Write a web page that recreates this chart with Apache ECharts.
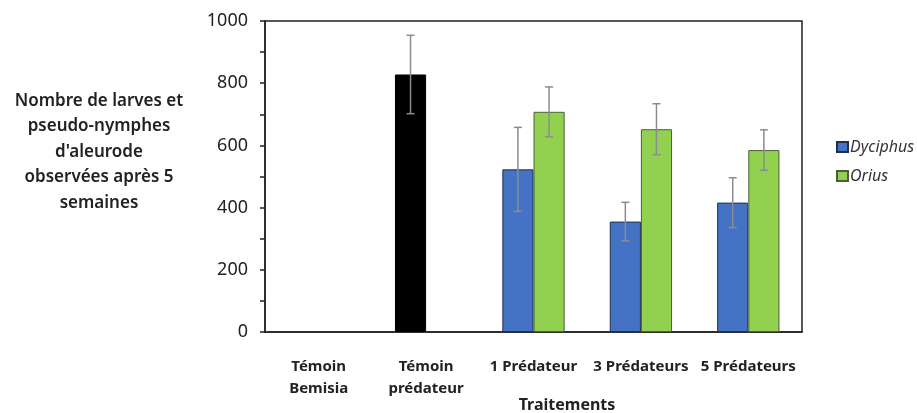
<!DOCTYPE html>
<html>
<head>
<meta charset="utf-8">
<script src="https://cdn.jsdelivr.net/npm/echarts@6/dist/echarts.min.js"></script>
<style>html,body{margin:0;padding:0;background:#fff;}#c{width:917px;height:413px;}</style>
</head>
<body>
<div id="c"></div>
<script>
var categories = ['Témoin\nBemisia', 'Témoin\nprédateur', '1 Prédateur', '3 Prédateurs', '5 Prédateurs'];
var dyciphus = [null, 828, 523, 355, 416];
var dyciphusErr = [null, 126, 135, 62, 80];
var orius = [null, null, 708, 652, 585];
var oriusErr = [null, null, 80, 82, 65];
var yTicks = [0, 200, 400, 600, 800, 1000];

var FONT = 'Noto Sans';
var chart = echarts.init(document.getElementById('c'));

function errSeries(vals, errs, side) {
  var data = vals.map(function (v, i) { return v == null ? [i, null, null] : [i, v, errs[i]]; });
  return {
    type: 'custom',
    silent: true,
    z: 10,
    data: data,
    renderItem: function (params, api) {
      var v = api.value(1), e = api.value(2);
      if (v == null || isNaN(v)) return null;
      var band = api.size([1, 0])[0];
      var c = api.coord([api.value(0), v]);
      var x = c[0] + side * band * 0.145;
      var top = api.coord([api.value(0), v + e])[1];
      var bot = api.coord([api.value(0), v - e])[1];
      var st = { stroke: '#8c8c8c', lineWidth: 1.5 };
      return {
        type: 'group',
        children: [
          { type: 'line', shape: { x1: x, y1: top, x2: x, y2: bot }, style: st },
          { type: 'line', shape: { x1: x - 4, y1: top, x2: x + 4, y2: top }, style: st },
          { type: 'line', shape: { x1: x - 4, y1: bot, x2: x + 4, y2: bot }, style: st }
        ]
      };
    }
  };
}

var dycData = dyciphus.map(function (v, i) {
  return i === 1 ? { value: v, itemStyle: { color: '#000000', borderColor: '#000000' } } : v;
});

chart.setOption({
  animation: false,
  textStyle: { fontFamily: FONT },
  grid: { left: 265, right: 115, top: 21, bottom: 81, show: true, borderColor: '#222', borderWidth: 1.5 },
  legend: {
    orient: 'vertical', left: 831, top: 134, itemWidth: 11, itemHeight: 10, itemGap: 13,
    icon: 'rect',
    textStyle: { fontFamily: FONT, fontStyle: 'italic', fontSize: 16, color: '#333', padding: [0, 0, 0, -3] },
    data: ['Dyciphus', 'Orius']
  },
  xAxis: {
    type: 'category',
    data: categories,
    axisLine: { lineStyle: { color: '#222', width: 1.5 } },
    axisTick: { show: false },
    axisLabel: { fontFamily: FONT, fontWeight: 'bold', fontSize: 15, color: '#222', margin: 24, lineHeight: 22, interval: 0 }
  },
  yAxis: {
    type: 'value', min: 0, max: 1000, interval: 100,
    axisLine: { show: true, lineStyle: { color: '#222', width: 1.5 } },
    axisTick: { show: true, length: 5, lineStyle: { color: '#222', width: 1.5 } },
    splitLine: { show: false },
    axisLabel: {
      fontFamily: FONT, fontSize: 18, color: '#222', margin: 17,
      formatter: function (v) { return yTicks.indexOf(v) >= 0 ? String(v) : ''; }
    }
  },
  graphic: [{
    type: 'text', x: 99, y: 88,
    style: {
      text: 'Nombre de larves et\npseudo-nymphes\nd\'aleurode\nobservées après 5\nsemaines',
      textAlign: 'center', textVerticalAlign: 'top',
      font: '600 17px "' + FONT + '"', fill: '#222', lineHeight: 25.5
    }
  }, {
    type: 'text', x: 567, y: 405,
    style: {
      text: 'Traitements', textAlign: 'center', textVerticalAlign: 'middle',
      font: 'bold 16px "' + FONT + '"', fill: '#222'
    }
  }],
  series: [
    {
      name: 'Dyciphus', type: 'bar', data: dycData, barGap: '0%', barCategoryGap: '42%',
      itemStyle: { color: '#4472C4', borderColor: '#1f2f4f', borderWidth: 1 }
    },
    {
      name: 'Orius', type: 'bar', data: orius,
      itemStyle: { color: '#92D050', borderColor: '#4d5f3a', borderWidth: 1 }
    },
    errSeries(dyciphus, dyciphusErr, -1),
    errSeries(orius, oriusErr, 1)
  ]
});
</script>
</body>
</html>
